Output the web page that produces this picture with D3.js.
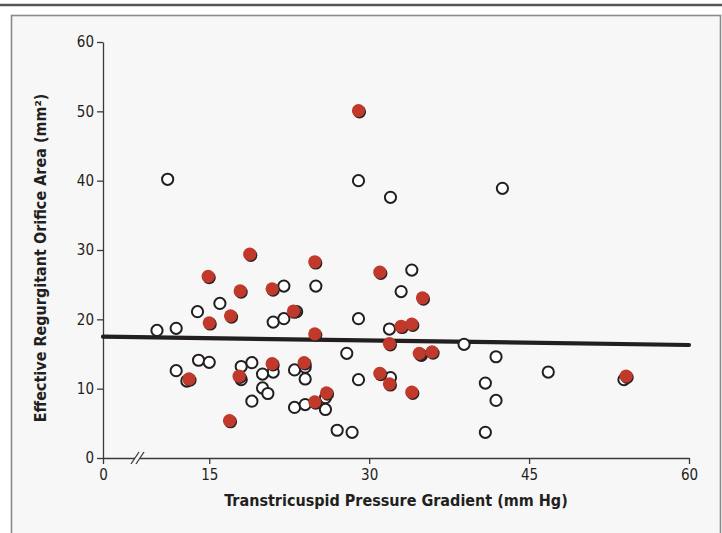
<!DOCTYPE html>
<html>
<head>
<meta charset="utf-8">
<script src="https://cdn.jsdelivr.net/npm/d3@7"></script>
<style>
  html, body { margin: 0; padding: 0; background: #ffffff; }
  svg { display: block; }
</style>
</head>
<body>
<svg id="chart" width="722" height="533"></svg>
<script>
// open circles: gradient (mm Hg), EROA (mm2)
const openX = [11.1, 29.0, 32.0, 42.5, 22.0, 25.0, 34.0, 33.0, 16.0, 13.9, 21.0, 22.0, 29.0,
  10.1, 11.9, 31.9, 38.9, 27.9, 41.9, 18.0, 19.0, 14.0, 15.0, 11.9, 12.9, 18.0, 21.0, 20.0,
  20.0, 20.5, 19.0, 23.0, 24.0, 24.0, 23.0, 24.0, 25.9, 25.9, 27.0, 28.4, 29.0, 32.0, 40.9,
  41.9, 40.9, 46.8, 53.9, 34.9, 23.2];
const openY = [40.2, 40.0, 37.6, 38.9, 24.8, 24.8, 27.1, 24.0, 22.3, 21.1, 19.6, 20.1, 20.1,
  18.4, 18.7, 18.6, 16.4, 15.1, 14.6, 13.2, 13.75, 14.1, 13.8, 12.6, 11.1, 11.3, 12.4, 12.1,
  10.1, 9.3, 8.2, 12.7, 13.1, 11.4, 7.3, 7.7, 8.7, 7.0, 4.0, 3.7, 11.3, 11.6, 10.8,
  8.3, 3.7, 12.4, 11.3, 14.8, 21.1];

// filled (red) circles
const redX = [29.0, 18.8, 14.9, 17.9, 20.9, 24.9, 31.0, 35.0, 17.0, 15.0, 22.9, 24.9, 33.0,
  34.0, 31.9, 34.7, 35.9, 13.1, 17.8, 20.9, 23.9, 16.9, 31.0, 31.9, 34.0, 26.0, 24.9, 54.1];
const redY = [50.1, 29.4, 26.2, 24.1, 24.4, 28.3, 26.8, 23.1, 20.5, 19.5, 21.2, 17.9, 19.0,
  19.3, 16.5, 15.1, 15.3, 11.4, 11.8, 13.6, 13.75, 5.4, 12.2, 10.7, 9.5, 9.4, 8.1, 11.8];

// regression line end points
const fitX = [0, 60];
const fitY = [17.5, 16.3];

const xTicks = [0, 15, 30, 45, 60];
const yTicks = [0, 10, 20, 30, 40, 50, 60];

const svg = d3.select("#chart");
const width = +svg.attr("width");
const height = +svg.attr("height");
const ink = "#231f20";
const font = "'Liberation Sans Narrow', 'DejaVu Sans Condensed', 'Open Sans', sans-serif";

const margin = { top: 42, left: 103 };
const innerWidth = 586;
const innerHeight = 416;

// page frame
svg.append("rect").attr("width", width).attr("height", height).attr("fill", "#ffffff");
svg.append("rect")
  .attr("x", 11.5).attr("y", 15.5)
  .attr("width", 709).attr("height", 530)
  .attr("fill", "#f7f7f7")
  .attr("stroke", "#8a8a8a")
  .attr("stroke-width", 1.6);
svg.append("line")
  .attr("x1", 0).attr("x2", width)
  .attr("y1", 5).attr("y2", 5)
  .attr("stroke", "#555555")
  .attr("stroke-width", 2.5);

const root = svg.append("g").attr("transform", `translate(${margin.left}, ${margin.top})`);

// broken axis: 0..8 squeezed, 8..60 linear
const x = d3.scaleLinear().domain([0, 8, 60]).range([0, 31.6, innerWidth]);
const y = d3.scaleLinear().domain([0, 60]).range([innerHeight, 0]);

const xAxis = root.append("g")
  .attr("transform", `translate(0, ${innerHeight})`)
  .call(d3.axisBottom(x).tickValues(xTicks).tickSize(6).tickSizeOuter(0).tickPadding(5));
const yAxis = root.append("g")
  .call(d3.axisLeft(y).tickValues(yTicks).tickSize(6).tickSizeOuter(0).tickPadding(3));

[xAxis, yAxis].forEach(axis => {
  axis.selectAll("path, line").attr("stroke", "#3a3a3a").attr("stroke-width", 1.3);
  axis.selectAll("text")
    .attr("fill", ink)
    .style("font-family", font)
    .style("font-size", "15px");
});

// axis break marks
const breakX = 35;
root.append("rect")
  .attr("x", breakX - 3).attr("y", innerHeight - 2)
  .attr("width", 5).attr("height", 4)
  .attr("fill", "#f7f7f7");
[-3, 2].forEach(dx => {
  root.append("line")
    .attr("x1", breakX + dx - 4).attr("y1", innerHeight + 6)
    .attr("x2", breakX + dx + 4).attr("y2", innerHeight - 6)
    .attr("stroke", "#3a3a3a")
    .attr("stroke-width", 1.3);
});

// fit line
const line = d3.line().x(d => x(d[0])).y(d => y(d[1]));
root.append("path")
  .datum(d3.zip(fitX, fitY))
  .attr("fill", "none")
  .attr("stroke", ink)
  .attr("stroke-width", 4.2)
  .attr("stroke-linecap", "round")
  .attr("d", line);

// open circles
root.append("g")
  .selectAll("circle")
  .data(d3.zip(openX, openY))
  .join("circle")
  .attr("cx", d => x(d[0]))
  .attr("cy", d => y(d[1]))
  .attr("r", 5.6)
  .attr("fill", "#ffffff")
  .attr("stroke", ink)
  .attr("stroke-width", 2);

// red circles with a dark rim
const reds = d3.zip(redX, redY);
root.append("g")
  .selectAll("circle")
  .data(reds)
  .join("circle")
  .attr("cx", d => x(d[0]) + 1)
  .attr("cy", d => y(d[1]) + 1.2)
  .attr("r", 6.6)
  .attr("fill", "#2b2120");
root.append("g")
  .selectAll("circle")
  .data(reds)
  .join("circle")
  .attr("cx", d => x(d[0]))
  .attr("cy", d => y(d[1]))
  .attr("r", 6.6)
  .attr("fill", "#c0392b");

// axis titles
svg.append("text")
  .attr("x", margin.left + 293)
  .attr("y", 506)
  .attr("text-anchor", "middle")
  .attr("fill", ink)
  .style("font-family", font)
  .style("font-size", "16px")
  .style("font-weight", 700)
  .text("Transtricuspid Pressure Gradient (mm Hg)");

svg.append("text")
  .attr("transform", "rotate(-90)")
  .attr("x", -258)
  .attr("y", 46)
  .attr("text-anchor", "middle")
  .attr("fill", ink)
  .style("font-family", font)
  .style("font-size", "16px")
  .style("font-weight", 700)
  .text("Effective Regurgitant Orifice Area (mm²)");
</script>
</body>
</html>
